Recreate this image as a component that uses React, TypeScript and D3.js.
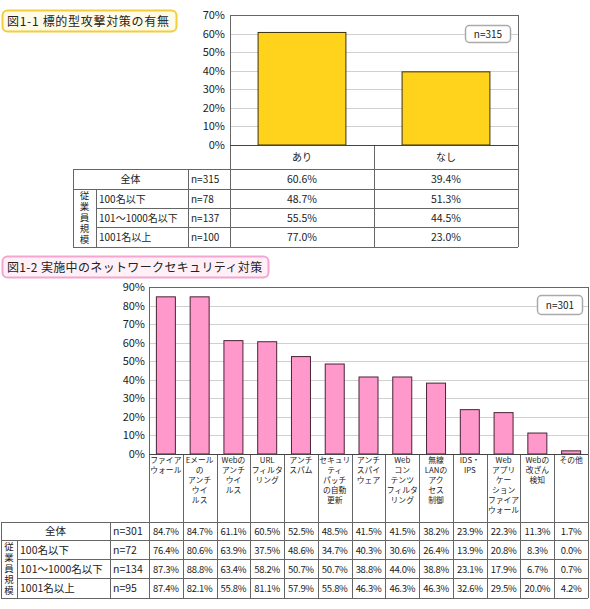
import React from 'react';
import * as d3 from 'd3';

// ── Figure 1-1 data ──
const TOP_TITLE = '図1-1 標的型攻撃対策の有無';
const TOP_N = 'n=315';
const TOP_CATEGORIES = ['あり', 'なし'];
const TOP_ROW_LABELS = ['全体', '100名以下', '101～1000名以下', '1001名以上'];
const TOP_ROW_N = ['n=315', 'n=78', 'n=137', 'n=100'];
const TOP_VALUES = [
  [60.6, 39.4],
  [48.7, 51.3],
  [55.5, 44.5],
  [77.0, 23.0],
];

// ── Figure 1-2 data ──
const BOT_TITLE = '図1-2 実施中のネットワークセキュリティ対策';
const BOT_N = 'n=301';
const BOT_CATEGORIES = [
  ['ファイア', 'ウォール'],
  ['Eメール', 'の', 'アンチ', 'ウイ', 'ルス'],
  ['Webの', 'アンチ', 'ウイ', 'ルス'],
  ['URL', 'フィルタ', 'リング'],
  ['アンチ', 'スパム'],
  ['セキュリ', 'ティ', 'パッチ', 'の自動', '更新'],
  ['アンチ', 'スパイ', 'ウェア'],
  ['Web', 'コン', 'テンツ', 'フィルタ', 'リング'],
  ['無線', 'LANの', 'アク', 'セス', '制御'],
  ['IDS・', 'IPS'],
  ['Web', 'アプリ', 'ケー', 'ション', 'ファイア', 'ウォール'],
  ['Webの', '改ざん', '検知'],
  ['その他'],
];
const BOT_ROW_LABELS = ['全体', '100名以下', '101～1000名以下', '1001名以上'];
const BOT_ROW_N = ['n=301', 'n=72', 'n=134', 'n=95'];
const BOT_VALUES = [
  [84.7, 84.7, 61.1, 60.5, 52.5, 48.5, 41.5, 41.5, 38.2, 23.9, 22.3, 11.3, 1.7],
  [76.4, 80.6, 63.9, 37.5, 48.6, 34.7, 40.3, 30.6, 26.4, 13.9, 20.8, 8.3, 0.0],
  [87.3, 88.8, 63.4, 58.2, 50.7, 50.7, 38.8, 44.0, 38.8, 23.1, 17.9, 6.7, 0.7],
  [87.4, 82.1, 55.8, 81.1, 57.9, 55.8, 46.3, 46.3, 46.3, 32.6, 29.5, 20.0, 4.2],
];
const GROUP_LABEL = '従業員規模';

const FONT = '"Noto Sans CJK JP", "Noto Sans", sans-serif';
const LINE = '#666';
const GRID = '#d0d0d0';
const TEXT = '#222';

const fmt = (v: number) => `${v.toFixed(1)}%`;

// 従業員規模, set vertically as one text
function VerticalLabel({ x, y0, y1 }: { x: number; y0: number; y1: number }) {
  const fs = 9.5;
  const n = GROUP_LABEL.length;
  const ls = (y1 - y0 - 4 - fs * n) / (n - 1);
  return (
    <text x={x} y={(y0 + y1) / 2} textAnchor="middle" fontSize={fs} letterSpacing={ls} fill={TEXT}
      style={{ writingMode: 'vertical-rl' }}>
      {GROUP_LABEL}
    </text>
  );
}

function TopChart() {
  const L = 230, R = 518, T = 15, B = 145;
  const y = d3.scaleLinear().domain([0, 70]).range([B, T]);
  const x = d3.scaleBand<string>().domain(TOP_CATEGORIES).range([L, R]);
  const bw = x.bandwidth() * 0.61;
  const rowY = [169, 189, 208, 227, 247];
  const tableL = 73, subL = 96, nL = 188;
  const divider = x(TOP_CATEGORIES[1])!;

  return (
    <g>
      <rect x={2.5} y={10.5} width={174} height={21} rx={5} fill="#fffbe6" stroke="#f3cd3a" strokeWidth={2} />
      <text x={7} y={25.5} fontSize={12} letterSpacing={0.7} fill={TEXT}>{TOP_TITLE}</text>

      {y.ticks(7).filter(t => t > 0 && t < 70).map(t => (
        <line key={t} x1={L} x2={R} y1={Math.round(y(t)) + 0.5} y2={Math.round(y(t)) + 0.5} stroke={GRID} />
      ))}
      {y.ticks(7).map(t => (
        <text key={t} x={225} y={y(t) + 4} textAnchor="end" fontSize={11} fill={TEXT}>{t}%</text>
      ))}
      <rect x={L + 0.5} y={T + 0.5} width={R - L} height={B - T} fill="none" stroke={LINE} />

      {TOP_VALUES[0].map((v, i) => {
        const cx = x(TOP_CATEGORIES[i])! + x.bandwidth() / 2;
        return (
          <rect key={i} x={cx - bw / 2} y={y(v)} width={bw} height={B - y(v)}
            fill="#ffd21c" stroke="#3a3010" strokeWidth={1} />
        );
      })}

      <rect x={465.5} y={25.5} width={45} height={17} rx={4} fill="#fff" stroke="#aaa" strokeWidth={1.5} />
      <text x={488} y={38} textAnchor="middle" fontSize={10} fill={TEXT}>{TOP_N}</text>

      {/* table */}
      <g stroke={LINE} strokeWidth={1} shapeRendering="crispEdges">
        <line x1={L} x2={L} y1={B} y2={rowY[4]} />
        <line x1={divider} x2={divider} y1={B} y2={rowY[4]} />
        <line x1={R} x2={R} y1={T} y2={rowY[4]} />
        <line x1={L} x2={R} y1={B} y2={B} stroke="#444" />
        <line x1={tableL} x2={R} y1={rowY[0]} y2={rowY[0]} />
        <line x1={tableL} x2={R} y1={rowY[1]} y2={rowY[1]} />
        <line x1={subL} x2={R} y1={rowY[2]} y2={rowY[2]} />
        <line x1={subL} x2={R} y1={rowY[3]} y2={rowY[3]} />
        <line x1={tableL} x2={R} y1={rowY[4]} y2={rowY[4]} />
        <line x1={tableL} x2={tableL} y1={rowY[0]} y2={rowY[4]} />
        <line x1={subL} x2={subL} y1={rowY[1]} y2={rowY[4]} />
        <line x1={nL} x2={nL} y1={rowY[0]} y2={rowY[4]} />
      </g>
      {TOP_CATEGORIES.map(c => (
        <text key={c} x={x(c)! + x.bandwidth() / 2} y={161} textAnchor="middle" fontSize={10} fill={TEXT}>{c}</text>
      ))}
      <VerticalLabel x={84.5} y0={rowY[1]} y1={rowY[4]} />
      {TOP_ROW_LABELS.map((lab, r) => {
        const cy = (rowY[r] + rowY[r + 1]) / 2 + 4;
        return (
          <g key={r}>
            {r === 0
              ? <text x={(tableL + nL) / 2} y={cy} textAnchor="middle" fontSize={10} fill={TEXT}>{lab}</text>
              : <text x={subL + 3} y={cy} fontSize={10} fill={TEXT}>{lab}</text>}
            <text x={nL + 3} y={cy} fontSize={10} fill={TEXT}>{TOP_ROW_N[r]}</text>
            {TOP_VALUES[r].map((v, i) => (
              <text key={i} x={x(TOP_CATEGORIES[i])! + x.bandwidth() / 2} y={cy} textAnchor="middle" fontSize={10.5} fill={TEXT}>{fmt(v)}</text>
            ))}
          </g>
        );
      })}
    </g>
  );
}

function BottomChart() {
  const L = 149, R = 588, T = 287, B = 454;
  const keys = BOT_CATEGORIES.map((_, i) => String(i));
  const y = d3.scaleLinear().domain([0, 90]).range([B, T]);
  const x = d3.scaleBand<string>().domain(keys).range([L, R]);
  const bw = 19;
  const rowY = [522, 540, 559, 578, 598];
  const tableL = 1, subL = 17, nL = 110;

  return (
    <g>
      <rect x={2.5} y={256.5} width={266} height={21} rx={5} fill="#fff0f7" stroke="#f4a6d0" strokeWidth={2} />
      <text x={7} y={271.5} fontSize={12} letterSpacing={0.35} fill={TEXT}>{BOT_TITLE}</text>

      {y.ticks(9).filter(t => t > 0 && t < 90).map(t => (
        <line key={t} x1={L} x2={R} y1={Math.round(y(t)) + 0.5} y2={Math.round(y(t)) + 0.5} stroke={GRID} />
      ))}
      {y.ticks(9).map(t => (
        <text key={t} x={145} y={y(t) + 4} textAnchor="end" fontSize={11} fill={TEXT}>{t}%</text>
      ))}
      <rect x={L + 0.5} y={T + 0.5} width={R - L} height={B - T} fill="none" stroke={LINE} />

      {BOT_VALUES[0].map((v, i) => {
        const cx = x(keys[i])! + x.bandwidth() / 2;
        return (
          <rect key={i} x={cx - bw / 2} y={y(v)} width={bw} height={B - y(v)}
            fill="#ff99cc" stroke="#4a2236" strokeWidth={1} />
        );
      })}

      <rect x={537.5} y={295.5} width={45} height={19} rx={4} fill="#fff" stroke="#aaa" strokeWidth={1.5} />
      <text x={560} y={309} textAnchor="middle" fontSize={10} fill={TEXT}>{BOT_N}</text>

      {/* category labels + table */}
      <g stroke={LINE} strokeWidth={1} shapeRendering="crispEdges">
        {keys.map(k => (
          <line key={k} x1={Math.round(x(k)!)} x2={Math.round(x(k)!)} y1={B} y2={rowY[4]} />
        ))}
        <line x1={R} x2={R} y1={T} y2={rowY[4]} />
        <line x1={L} x2={R} y1={B} y2={B} stroke="#444" />
        <line x1={tableL} x2={R} y1={rowY[0]} y2={rowY[0]} />
        <line x1={tableL} x2={R} y1={rowY[1]} y2={rowY[1]} />
        <line x1={subL} x2={R} y1={rowY[2]} y2={rowY[2]} />
        <line x1={subL} x2={R} y1={rowY[3]} y2={rowY[3]} />
        <line x1={tableL} x2={R} y1={rowY[4]} y2={rowY[4]} />
        <line x1={tableL} x2={tableL} y1={rowY[0]} y2={rowY[4]} />
        <line x1={subL} x2={subL} y1={rowY[1]} y2={rowY[4]} />
        <line x1={nL} x2={nL} y1={rowY[0]} y2={rowY[4]} />
      </g>
      {BOT_CATEGORIES.map((lines, i) => (
        <text key={i} textAnchor="middle" fontSize={7.8} fill={TEXT}>
          {lines.map((ln, j) => (
            <tspan key={j} x={x(keys[i])! + x.bandwidth() / 2} y={463 + j * 10}>{ln}</tspan>
          ))}
        </text>
      ))}
      <VerticalLabel x={9} y0={rowY[1]} y1={rowY[4]} />
      {BOT_ROW_LABELS.map((lab, r) => {
        const cy = (rowY[r] + rowY[r + 1]) / 2 + 4;
        return (
          <g key={r}>
            {r === 0
              ? <text x={(tableL + nL) / 2} y={cy} textAnchor="middle" fontSize={10.5} fill={TEXT}>{lab}</text>
              : <text x={subL + 3} y={cy} fontSize={10.5} fill={TEXT}>{lab}</text>}
            <text x={nL + 3} y={cy} fontSize={10.5} fill={TEXT}>{BOT_ROW_N[r]}</text>
            {BOT_VALUES[r].map((v, i) => (
              <text key={i} x={x(keys[i])! + x.bandwidth() / 2} y={cy} textAnchor="middle"
                fontSize={9.5} letterSpacing={-0.3} fill={TEXT}>{fmt(v)}</text>
            ))}
          </g>
        );
      })}
    </g>
  );
}

export default function App() {
  return (
    <div style={{ position: 'absolute', left: 0, top: 0 }}>
      <svg width={590} height={609} style={{ display: 'block', fontFamily: FONT, background: '#fff' }}>
        <TopChart />
        <BottomChart />
      </svg>
    </div>
  );
}
